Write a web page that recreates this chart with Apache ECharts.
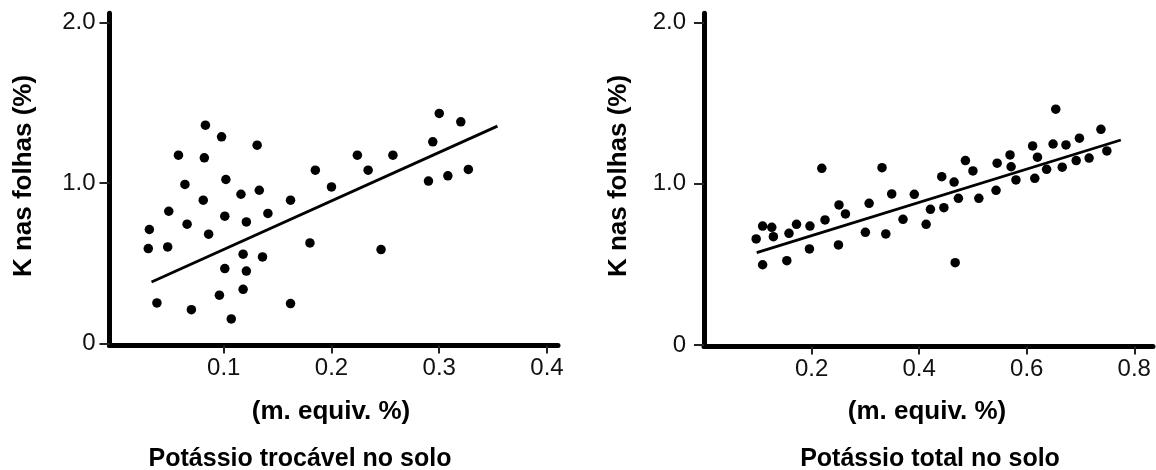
<!DOCTYPE html>
<html>
<head>
<meta charset="utf-8">
<script src="https://cdn.jsdelivr.net/npm/echarts@6/dist/echarts.min.js"></script>
<style>
  html, body { margin: 0; padding: 0; background: #ffffff; }
  #chart { width: 1156px; height: 470px; }
</style>
</head>
<body>
<div id="chart"></div>
<script>
// Leaf K (%) against exchangeable soil K (m. equiv. %)
const exchangeableK = [
  [0.083, 1.361], [0.098, 1.288], [0.131, 1.236], [0.058, 1.174], [0.082, 1.157],
  [0.300, 1.434], [0.320, 1.382], [0.294, 1.257], [0.224, 1.174], [0.257, 1.174],
  [0.185, 1.080], [0.234, 1.080], [0.064, 0.991], [0.102, 1.022], [0.116, 0.930],
  [0.133, 0.955], [0.081, 0.893], [0.200, 0.976], [0.162, 0.893], [0.290, 1.012],
  [0.308, 1.045], [0.327, 1.085], [0.049, 0.824], [0.101, 0.793], [0.121, 0.757],
  [0.141, 0.810], [0.031, 0.710], [0.066, 0.743], [0.086, 0.681], [0.030, 0.591],
  [0.048, 0.601], [0.180, 0.626], [0.246, 0.585], [0.118, 0.556], [0.136, 0.539],
  [0.101, 0.466], [0.121, 0.451], [0.118, 0.337], [0.096, 0.300], [0.038, 0.252],
  [0.070, 0.210], [0.162, 0.248], [0.107, 0.152]
];
const exchangeableFit = [[0.033, 0.383], [0.354, 1.355]];

// Leaf K (%) against total soil K (m. equiv. %)
const totalK = [
  [0.654, 1.463], [0.738, 1.338], [0.611, 1.235], [0.649, 1.247], [0.673, 1.241],
  [0.698, 1.283], [0.620, 1.165], [0.749, 1.204], [0.219, 1.096], [0.331, 1.100],
  [0.486, 1.144], [0.545, 1.128], [0.569, 1.179], [0.571, 1.106], [0.500, 1.080],
  [0.442, 1.044], [0.465, 1.011], [0.637, 1.090], [0.666, 1.103], [0.692, 1.144],
  [0.716, 1.160], [0.580, 1.024], [0.615, 1.034], [0.349, 0.937], [0.391, 0.935],
  [0.473, 0.910], [0.511, 0.910], [0.543, 0.960], [0.251, 0.869], [0.307, 0.879],
  [0.263, 0.813], [0.421, 0.842], [0.446, 0.852], [0.225, 0.776], [0.370, 0.780],
  [0.413, 0.749], [0.300, 0.699], [0.338, 0.689], [0.109, 0.738], [0.126, 0.730],
  [0.129, 0.672], [0.158, 0.693], [0.172, 0.749], [0.197, 0.738], [0.097, 0.658],
  [0.196, 0.596], [0.250, 0.621], [0.109, 0.498], [0.154, 0.523], [0.467, 0.511]
];
const totalFit = [[0.098, 0.573], [0.775, 1.272]];

const yTicks = [0, 1, 2];
const xTicksExchangeable = [0.1, 0.2, 0.3, 0.4];
const xTicksTotal = [0.2, 0.4, 0.6, 0.8];

const yAxisTitle = 'K nas folhas (%)';
const xAxisTitle = '(m. equiv. %)';
const captions = ['Potássio trocável no solo', 'Potássio total no solo'];

const FONT = '"Liberation Sans", Arial, Helvetica, sans-serif';
const INK = '#000000';

function xAxis(gridIndex, min, max, ticks) {
  return {
    type: 'value', gridIndex, min, max,
    splitLine: { show: false },
    axisLine: { show: true, onZero: false, lineStyle: { color: INK, width: 5 } },
    axisTick: { show: true, customValues: ticks, length: 8, lineStyle: { color: '#222', width: 2 } },
    axisLabel: {
      customValues: ticks, margin: 11, fontSize: 24, color: '#111', fontFamily: FONT,
      formatter: v => v.toFixed(1)
    }
  };
}

function yAxis(gridIndex, min, max, margin) {
  return {
    type: 'value', gridIndex, min, max,
    splitLine: { show: false },
    axisLine: { show: true, onZero: false, lineStyle: { color: INK, width: 5 } },
    axisTick: { show: true, customValues: yTicks, length: 10, lineStyle: { color: '#222', width: 2 } },
    axisLabel: {
      customValues: yTicks, margin, fontSize: 24, color: '#111', fontFamily: FONT,
      formatter: v => (v === 0 ? '0' : v.toFixed(1))
    }
  };
}

function dots(index, data) {
  return {
    type: 'scatter', xAxisIndex: index, yAxisIndex: index, data,
    symbol: 'circle', symbolSize: 9.5,
    itemStyle: { color: INK, opacity: 1 }, silent: true
  };
}

function fit(index, data) {
  return {
    type: 'line', xAxisIndex: index, yAxisIndex: index, data,
    showSymbol: false, symbol: 'none', silent: true,
    lineStyle: { color: INK, width: 2.8 }
  };
}

function label(text, x, y, size, rotation) {
  return {
    type: 'text', x, y, rotation: rotation || 0, silent: true,
    style: {
      text, fill: INK, font: 'bold ' + size + 'px ' + FONT,
      align: 'center', verticalAlign: 'middle',
      textAlign: 'center', textVerticalAlign: 'middle'
    }
  };
}

const chart = echarts.init(document.getElementById('chart'), null, { renderer: 'canvas' });
chart.setOption({
  animation: false,
  backgroundColor: '#ffffff',
  grid: [
    { left: 109.5, top: 13.3, width: 448.5, height: 332.2 },
    { left: 704, top: 13.3, width: 449, height: 333.2 }
  ],
  xAxis: [
    xAxis(0, -0.006, 0.4102, xTicksExchangeable),
    xAxis(1, 0, 0.8348, xTicksTotal)
  ],
  yAxis: [
    yAxis(0, -0.0137, 2.059, 14),
    yAxis(1, -0.0093, 2.058, 18)
  ],
  series: [
    dots(0, exchangeableK), fit(0, exchangeableFit),
    dots(1, totalK), fit(1, totalFit)
  ],
  graphic: [
    label(yAxisTitle, 24, 176, 26, Math.PI / 2),
    label(yAxisTitle, 619, 176, 26, Math.PI / 2),
    label(xAxisTitle, 331, 412, 26),
    label(xAxisTitle, 927, 412, 26),
    label(captions[0], 300, 459, 25),
    label(captions[1], 930, 459, 25)
  ]
});
</script>
</body>
</html>
